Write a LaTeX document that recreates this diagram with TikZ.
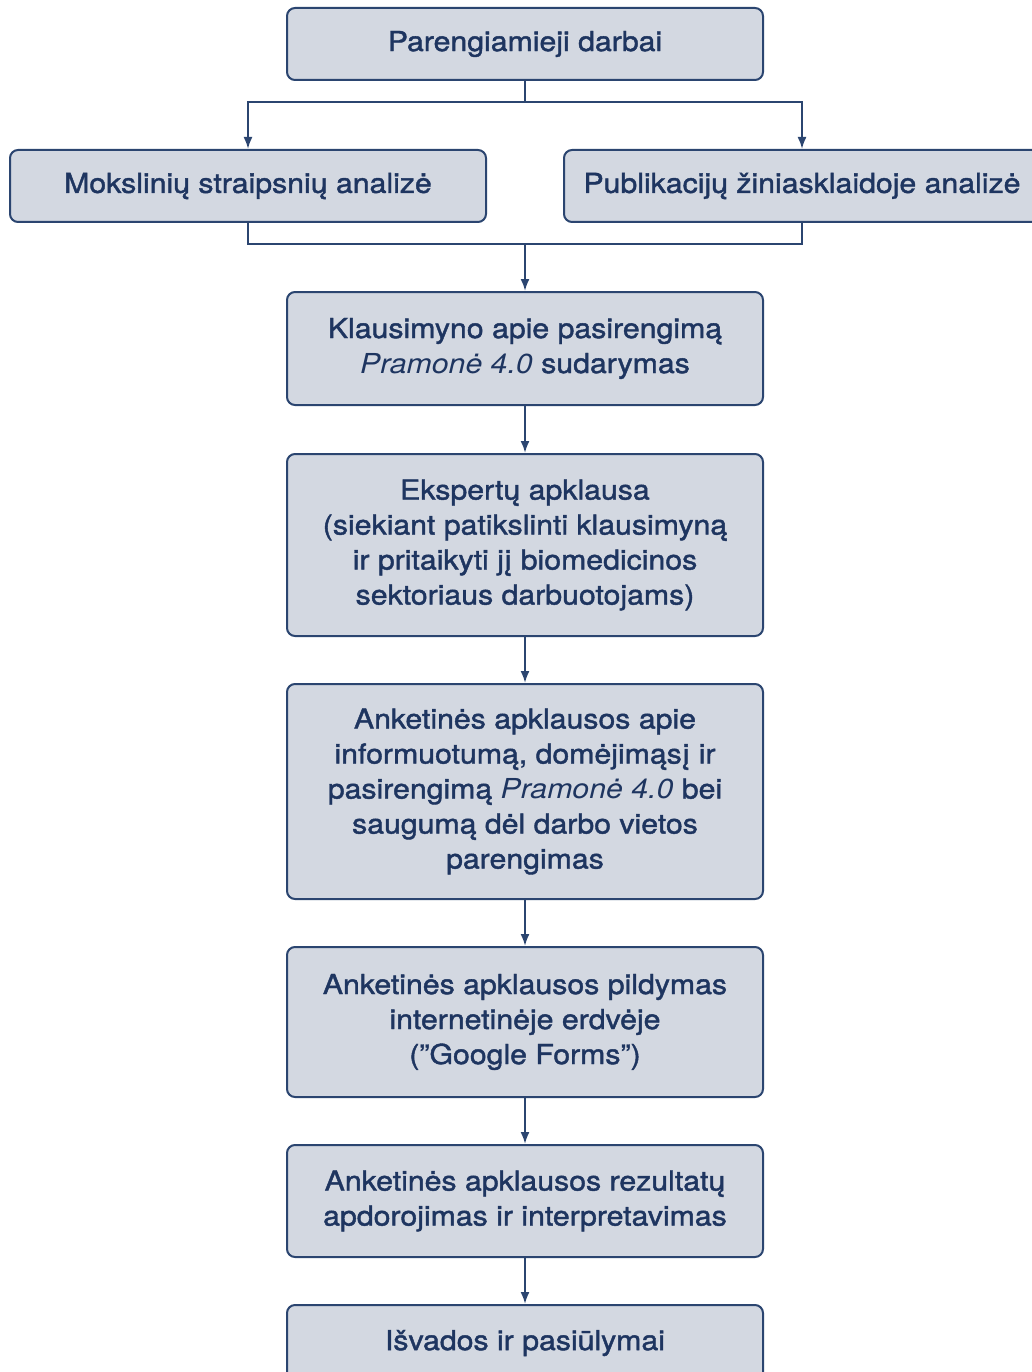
\documentclass[tikz,border=0pt]{standalone}
\usepackage{fontspec}
\setmainfont{TeX Gyre Heros}[FakeStretch=1.1, UprightFeatures={FakeBold=1.5}]
\usetikzlibrary{arrows.meta}
\definecolor{boxfill}{HTML}{D3D8E1}
\definecolor{boxline}{HTML}{2B4570}
\definecolor{txt}{HTML}{1E3560}
\tikzset{
  stepbox/.style={draw=boxline, fill=boxfill, line width=2pt, rounded corners=8pt,
    minimum width=476pt, align=center, text=txt, inner sep=0pt,
    font=\fontsize{27.5}{35}\selectfont},
  conn/.style={draw=boxline, line width=2pt},
  arr/.style={conn, -{Latex[length=12pt,width=9pt]}}
}
\begin{document}
\begin{tikzpicture}[x=1pt,y=-1pt]
\useasboundingbox (0,0) rectangle (1032,1372);
\clip (0,0) rectangle (1032,1372);
\node[stepbox, minimum height=72pt] (top) at (525,44) {Parengiamieji darbai};
\node[stepbox, minimum height=72pt] (left) at (248,186) {Mokslinių straipsnių analizė};
\node[stepbox, minimum height=72pt] (right) at (802,186) {Publikacijų žiniasklaidoje analizė};
\node[stepbox, minimum height=113pt] (b3) at (525,348.5) {Klausimyno apie pasirengimą\\\textit{Pramonė 4.0} sudarymas};
\node[stepbox, minimum height=182pt] (b4) at (525,545) {Ekspertų apklausa\\(siekiant patikslinti klausimyną\\ir pritaikyti jį biomedicinos\\sektoriaus darbuotojams)};
\node[stepbox, minimum height=215pt] (b5) at (525,791.5) {Anketinės apklausos apie\\informuotumą, domėjimąsį ir\\pasirengimą \textit{Pramonė 4.0} bei\\saugumą dėl darbo vietos\\parengimas};
\node[stepbox, minimum height=150pt] (b6) at (525,1022) {Anketinės apklausos pildymas\\internetinėje erdvėje\\(”Google Forms”)};
\node[stepbox, minimum height=112pt] (b7) at (525,1201) {Anketinės apklausos rezultatų\\apdorojimas ir interpretavimas};
\node[stepbox, minimum height=112pt] (b8) at (525,1361) {};
\node[text=txt, font=\fontsize{27.5}{35}\selectfont] (b8t) at (525,1343) {Išvados ir pasiūlymai};
\coordinate (split) at (525,102);
\coordinate (merge) at (525,244);
\draw[conn] (top.south) -- (split);
\draw[arr] (split) -| (left.north);
\draw[arr] (split) -| (right.north);
\draw[conn] (left.south) |- (merge) -| (right.south);
\draw[arr] (merge) -- (b3.north);
\draw[arr] (b3.south) -- (b4.north);
\draw[arr] (b4.south) -- (b5.north);
\draw[arr] (b5.south) -- (b6.north);
\draw[arr] (b6.south) -- (b7.north);
\draw[arr] (b7.south) -- (b8.north);
\end{tikzpicture}
\end{document}
